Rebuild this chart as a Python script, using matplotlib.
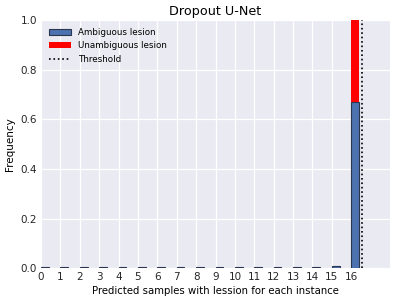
import matplotlib
matplotlib.use("Agg")
import matplotlib.pyplot as plt
import numpy as np

# frecuencias por numero de muestras con lesion (0..16)
muestras = np.arange(17)
ambigua = [0.003, 0.003, 0.003, 0.003, 0.003, 0.003, 0.003, 0.003, 0.003,
           0.003, 0.003, 0.003, 0.003, 0.003, 0.004, 0.008, 0.67]
no_ambigua = [0, 0, 0, 0, 0, 0, 0, 0, 0, 0, 0, 0, 0, 0, 0, 0, 0.33]
umbral = 16.55

plt.rcParams['font.family'] = ['DejaVu Sans']
fig = plt.figure(figsize=(3.98, 3.05), dpi=100)
ax = fig.add_axes([0.103, 0.121, 0.877, 0.813])
ax.set_facecolor('#EAEAF2')
for s in ax.spines.values():
    s.set_visible(False)
ax.grid(True, color='white', linewidth=0.9)
ax.set_axisbelow(True)

ax.bar(muestras, ambigua, width=0.4, align='edge', color='#4C72B0',
       edgecolor='#2a3550', linewidth=0.8, label='Ambiguous lesion')
ax.bar(muestras, no_ambigua, width=0.4, align='edge', bottom=ambigua,
       color='red', linewidth=0, label='Unambiguous lesion')
ax.axvline(umbral, color='black', linestyle=':', linewidth=1.2, label='Threshold')

ax.set_xlim(0, 18)
ax.set_ylim(0, 1)
ax.set_xticks(muestras)
ax.set_yticks(np.arange(0, 1.01, 0.2))
ax.tick_params(length=0, labelsize=7.5, colors='#262626', pad=3)
ax.set_title('Dropout U-Net', fontsize=9.2, pad=4)
ax.set_xlabel('Predicted samples with lession for each instance', fontsize=7.3, labelpad=3)
ax.set_ylabel('Frequency', fontsize=7.5, labelpad=4)

h, l = ax.get_legend_handles_labels()
order = [1, 2, 0]
ax.legend([h[i] for i in order], [l[i] for i in order], loc='upper left',
          frameon=False, fontsize=6.3, handlelength=2.5, borderaxespad=0.5)

fig.savefig('out.png', dpi=100)
